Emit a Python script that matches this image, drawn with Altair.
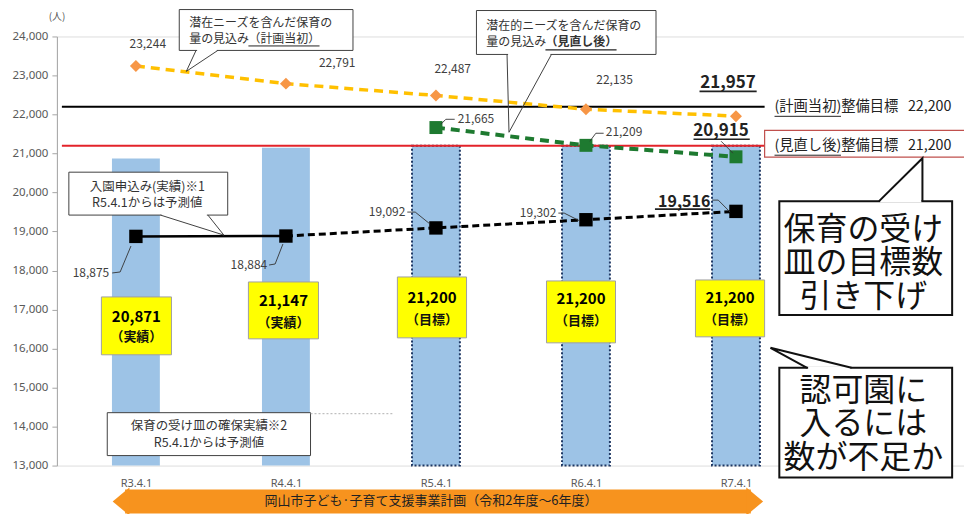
import altair as alt
import pandas as pd

# ---------------- data ----------------
categories = ["R3.4.1", "R4.4.1", "R5.4.1", "R6.4.1", "R7.4.1"]
capacity = [20871, 21147, 21200, 21200, 21200]            # 保育の受け皿
capacity_note = ["（実績）", "（実績）", "（目標）", "（目標）", "（目標）"]
capacity_planned = [False, False, True, True, True]
demand_initial = [23244, 22791, 22487, 22135, 21957]       # 量の見込み（計画当初）
demand_revised = [None, None, 21665, 21209, 20915]         # 量の見込み（見直し後）
applications = [18875, 18884, 19092, 19302, 19516]         # 入園申込み
target_initial = 22200
target_revised = 21200
y_ticks = list(range(13000, 25000, 1000))

FONT = "Noto Sans CJK JP"
NBSP = "\u00a0"
xs = alt.Scale(domain=[-0.4934, 5.4868], nice=False, zero=False)
ys = alt.Scale(domain=[13000, 24000], nice=False, zero=False)

label_expr = "[" + ",".join(f"'{c}'" for c in categories) + "][datum.value]"
AX = alt.Axis(values=[0, 1, 2, 3, 4], labelExpr=label_expr, domain=False, ticks=False, tickSize=0,
              grid=False, labelPadding=12, labelFontSize=11, labelColor="#595959",
              labelFont="Noto Sans", title=None)
AY = alt.Axis(values=y_ticks, labelExpr="format(datum.value, ',')", grid=False,
              domainColor="#a6a6a6", tickColor="#a6a6a6",
              tickSize=5, labelPadding=4, labelFontSize=11.5, labelColor="#595959",
              labelFont="Noto Sans", title=None)


def X(f="u"):
    return alt.X(f"{f}:Q", scale=xs, axis=AX)


def Y(f="v"):
    return alt.Y(f"{f}:Q", scale=ys, axis=AY)


def fmt(n):
    return f"{n:,}"


base = pd.DataFrame({
    "i": list(range(len(categories))),
    "cap": capacity,
    "planned": capacity_planned,
    "dem0": demand_initial,
    "dem1": demand_revised,
    "app": applications,
})
base["floor"] = 13000

bars = alt.Chart(base).mark_bar(size=48, color="#9dc3e6").encode(
    x=X("i"), y=Y("cap"), y2="floor")
bar_border = alt.Chart(base).transform_filter("datum.planned").mark_bar(
    size=48, fillOpacity=0, stroke="#1f3864", strokeWidth=2, strokeDash=[2, 2]
).encode(x=X("i"), y=Y("cap"), y2="floor")

# yellow value boxes
yb = pd.DataFrame({
    "u0": [-0.230, 0.750, 1.743, 2.737, 3.730],
    "u1": [0.237, 1.217, 2.204, 3.197, 4.191],
    "v0": [17323, 17707, 17835, 17733, 17758],
    "v1": [15840, 16249, 16274, 16146, 16300],
    "uc": [0.003, 0.984, 1.974, 2.967, 3.960],
    "vt": [16812, 17221, 17298, 17272, 17298],
    "vn": [16300, 16658, 16735, 16709, 16735],
    "t": [fmt(c) for c in capacity],
    "n": capacity_note,
})
ybox = alt.Chart(yb).mark_rect(fill="#ffff00", stroke="#a0a0a0", strokeWidth=1).encode(
    x=X("u0"), x2="u1", y=Y("v0"), y2="v1")
ybox_t = alt.Chart(yb).mark_text(fontSize=15, fontWeight="bold", color="#000", font=FONT).encode(
    x=X("uc"), y=Y("vt"), text="t")
ybox_n = alt.Chart(yb).mark_text(fontSize=13, fontWeight="bold", color="#111", font=FONT).encode(
    x=X("uc"), y=Y("vn"), text="n")

# target lines
tg_black = pd.DataFrame({"u0": [-0.4934], "u1": [4.191], "v": [target_initial]})
tg_red = pd.DataFrame({"u0": [-0.4934], "u1": [4.191], "v": [target_revised]})
rule_black = alt.Chart(tg_black).mark_rule(color="#000", strokeWidth=2).encode(
    x=X("u0"), x2="u1", y=Y("v"))
rule_red = alt.Chart(tg_red).mark_rule(color="#e3232a", strokeWidth=2).encode(
    x=X("u0"), x2="u1", y=Y("v"))

# series lines
orange_line = alt.Chart(base).mark_line(color="#ffc000", strokeWidth=3.5, strokeDash=[9, 6]).encode(
    x=X("i"), y=Y("dem0"))
orange_pts = alt.Chart(base).mark_point(shape="diamond", filled=True, color="#f79646", size=144,
                                        opacity=1).encode(x=X("i"), y=Y("dem0"))
green_line = alt.Chart(base).transform_filter("isValid(datum.dem1)").mark_line(
    color="#1e7a30", strokeWidth=4, strokeDash=[9, 6]).encode(x=X("i"), y=Y("dem1"))
green_pts = alt.Chart(base).transform_filter("isValid(datum.dem1)").mark_point(
    shape="square", filled=True, color="#1e7a30", size=169, opacity=1).encode(x=X("i"), y=Y("dem1"))
black_solid = alt.Chart(base).transform_filter("datum.i <= 1").mark_line(
    color="#000", strokeWidth=2.5).encode(x=X("i"), y=Y("app"))
black_dash = alt.Chart(base).transform_filter("datum.i >= 1").mark_line(
    color="#000", strokeWidth=3, strokeDash=[7, 4]).encode(x=X("i"), y=Y("app"))
black_pts = alt.Chart(base).mark_point(shape="square", filled=True, color="#000", size=180,
                                       opacity=1).encode(x=X("i"), y=Y("app"))


def tlayer(df, **kw):
    props = dict(font=FONT, baseline="middle")
    props.update(kw)
    return alt.Chart(df).mark_text(**props).encode(x=X("u"), y=Y("v"), text="t")


lab_c = pd.DataFrame({"u": [0.079, 1.342, 2.112, 3.191], "v": [23795, 23309, 23156, 22874],
                      "t": [fmt(x) for x in demand_initial[:4]]})
lab_l = pd.DataFrame({"u": [2.145, 3.132], "v": [21877, 21544],
                      "t": [fmt(demand_revised[2]), fmt(demand_revised[3])]})
lab_r = pd.DataFrame({"u": [1.796, 2.803, -0.178, 0.875], "v": [19498, 19472, 17937, 18142],
                      "t": [fmt(applications[2]), fmt(applications[3]), fmt(applications[0]), fmt(applications[1])]})
lab_b = pd.DataFrame({"u": [3.947, 3.901], "v": [22798, 21570],
                      "t": [fmt(demand_initial[4]), fmt(demand_revised[4])]})
lab_b2 = pd.DataFrame({"u": [3.829], "v": [19753], "t": [fmt(applications[4])]})

underlines = pd.DataFrame({
    "u0": [3.757, 3.717, 3.46, 0.750, 2.730, 4.257, 4.257],
    "u1": [4.138, 4.092, 3.829, 1.224, 3.204, 4.700, 4.700],
    "v": [22593, 21365, 19574, 23757, 23655, 21953, 20956],
    "w": [1.6, 1.6, 1.6, 1, 1.2, 1, 1],
})
ul = alt.Chart(underlines).mark_rule(color="#222").encode(
    x=X("u0"), x2="u1", y=Y("v"), strokeWidth=alt.StrokeWidth("w:Q", scale=None))

leaders = pd.DataFrame([
    ("a", 0, 2.033, 21749), ("a", 1, 2.066, 21877), ("a", 2, 2.125, 21877),
    ("b", 0, 3.026, 21314), ("b", 1, 3.066, 21519), ("b", 2, 3.118, 21519),
    ("c", 0, 3.901, 21314), ("c", 1, 3.980, 21007),
    ("d", 0, 1.809, 19498), ("d", 1, 1.862, 19498), ("d", 2, 1.961, 19191),
    ("e", 0, 2.816, 19472), ("e", 1, 2.855, 19472), ("e", 2, 2.961, 19267),
    ("f", 0, 3.842, 19805), ("f", 1, 3.882, 19805), ("f", 2, 3.961, 19498),
    ("g", 0, -0.158, 17937), ("g", 1, -0.105, 17963), ("g", 2, -0.033, 18628),
    ("h", 0, 0.888, 18142), ("h", 1, 0.928, 18167), ("h", 2, 0.980, 18679),
], columns=["g", "k", "u", "v"])
lead = alt.Chart(leaders).mark_line(color="#333", strokeWidth=0.9).encode(
    x=X("u"), y=Y("v"), detail="g:N", order="k:Q")

# callout boxes
thin_boxes = pd.DataFrame({
    "u0": [0.289, 2.270, -0.447, -0.191],
    "u1": [1.447, 3.467, 0.612, 1.164],
    "v0": [24690, 24665, 20521, 14356],
    "v1": [23642, 23539, 19421, 13256],
})
tb = alt.Chart(thin_boxes).mark_rect(fill="white", stroke="#404040", strokeWidth=1).encode(
    x=X("u0"), x2="u1", y=Y("v0"), y2="v1")
big_boxes = pd.DataFrame({"u0": [4.289, 4.289], "u1": [5.441, 5.441],
                          "v0": [19779, 15507], "v1": [16863, 12693]})
bb = alt.Chart(big_boxes).mark_rect(fill="white", stroke="#111", strokeWidth=2).encode(
    x=X("u0"), x2="u1", y=Y("v0"), y2="v1")
red_box = alt.Chart(pd.DataFrame({"u0": [4.191], "u1": [5.53], "v0": [21595], "v1": [20905]})).mark_rect(
    fill="white", stroke="#c0504d", strokeWidth=1.2).encode(x=X("u0"), x2="u1", y=Y("v0"), y2="v1")

openings = pd.DataFrame({
    "u0": [0.408, 2.481, 0.171, 4.961, 4.481],
    "u1": [0.539, 2.763, 0.473, 5.236, 4.763],
    "v": [23642, 23539, 19421, 19779, 15507],
})
op = alt.Chart(openings).mark_rule(color="white", strokeWidth=3).encode(x=X("u0"), x2="u1", y=Y("v"))

ptr_thin = pd.DataFrame([
    ("A", 0, 0.401, 23642), ("A", 1, 0.336, 23105), ("A", 2, 0.546, 23642),
    ("B", 0, 2.474, 23539), ("B", 1, 2.487, 21544), ("B", 2, 2.770, 23539),
    ("C", 0, 0.164, 19421), ("C", 1, 0.586, 18909), ("C", 2, 0.480, 19421),
], columns=["g", "k", "u", "v"])
ptr_big = pd.DataFrame([
    ("E", 0, 4.954, 19779), ("E", 1, 5.243, 20879), ("E", 2, 5.243, 19779),
    ("F", 0, 4.474, 15507), ("F", 1, 4.230, 16019), ("F", 2, 4.770, 15507),
], columns=["g", "k", "u", "v"])
pt = alt.Chart(ptr_thin).mark_line(color="#404040", strokeWidth=1).encode(
    x=X("u"), y=Y("v"), detail="g:N", order="k:Q")
pb = alt.Chart(ptr_big).mark_line(color="#111", strokeWidth=2).encode(
    x=X("u"), y=Y("v"), detail="g:N", order="k:Q")

dotted = alt.Chart(pd.DataFrame({"u0": [1.164], "u1": [1.711], "v": [14330]})).mark_rule(
    color="#b0b0b0", strokeWidth=1, strokeDash=[2, 2]).encode(x=X("u0"), x2="u1", y=Y("v"))

box_left = pd.DataFrame({
    "u": [0.355, 0.355, 2.336, 2.336],
    "v": [24345, 23936, 24269, 23846],
    "t": ["潜在ニーズを含んだ保育の", "量の見込み", "潜在的ニーズを含んだ保育の", "量の見込み"],
})
box_left2 = pd.DataFrame({"u": [0.750], "v": [23936], "t": ["（計画当初）"]})
box_left3 = pd.DataFrame({"u": [2.730], "v": [23846], "t": ["（見直し後）"]})
box_center = pd.DataFrame({
    "u": [0.076, 0.076, 0.487, 0.487],
    "v": [20137, 19728, 14023, 13588],
    "t": ["入園申込み(実績)※1", "R5.4.1からは予測値", "保育の受け皿の確保実績※2", "R5.4.1からは予測値"],
})
right_labels = pd.DataFrame({
    "u": [4.257, 4.257],
    "v": [22184, 21186],
    "t": [f"(計画当初)整備目標{NBSP * 3}{fmt(target_initial)}",
          f"(見直し後)整備目標{NBSP * 3}{fmt(target_revised)}"],
})
big_text = pd.DataFrame({
    "u": [4.849, 4.849],
    "v": [19037, 14919],
    "t": ["保育の受け\n皿の目標数\n引き下げ", "認可園に\n入るには\n数が不足か"],
})
unit = pd.DataFrame({"u": [-0.526], "v": [24500], "t": ["(人)"]})

# plan period arrow
arrow_body = alt.Chart(pd.DataFrame({"u0": [-0.072], "u1": [4.099], "v0": [12386], "v1": [11772]})).mark_rect(
    color="#f7931e").encode(x=X("u0"), x2="u1", y=Y("v0"), y2="v1")
arrow_l = alt.Chart(pd.DataFrame({"u": [-0.099], "v": [12079]})).mark_point(
    shape="M0.6,-1L-0.6,0L0.6,1Z", filled=True, color="#f7931e", size=784, opacity=1).encode(x=X("u"), y=Y("v"))
arrow_r = alt.Chart(pd.DataFrame({"u": [4.125], "v": [12079]})).mark_point(
    shape="M-0.6,-1L0.6,0L-0.6,1Z", filled=True, color="#f7931e", size=784, opacity=1).encode(x=X("u"), y=Y("v"))
arrow_t = pd.DataFrame({"u": [1.967], "v": [12079], "t": ["岡山市子ども·子育て支援事業計画（令和2年度～6年度）"]})

chart = alt.layer(
    bars, bar_border,
    rule_black, rule_red,
    ybox, ybox_t, ybox_n,
    orange_line, green_line, black_solid, black_dash,
    orange_pts, green_pts, black_pts,
    lead,
    tlayer(lab_c, fontSize=12, color="#404040", align="center"),
    tlayer(lab_l, fontSize=12, color="#404040", align="left"),
    tlayer(lab_r, fontSize=12, color="#404040", align="right"),
    tlayer(lab_b, fontSize=17, fontWeight="bold", color="#222", align="center"),
    tlayer(lab_b2, fontSize=16, fontWeight="bold", color="#222", align="right"),
    tb, bb, red_box, op, pt, pb, dotted,
    tlayer(box_left, fontSize=12, color="#333", align="left"),
    tlayer(box_left2, fontSize=12, color="#333", align="left"),
    tlayer(box_left3, fontSize=12, fontWeight="bold", color="#333", align="left"),
    tlayer(box_center, fontSize=12.5, color="#333", align="center"),
    tlayer(right_labels, fontSize=14.3, color="#222", align="left"),
    tlayer(big_text, fontSize=32, color="#111", align="center", lineBreak="\n", lineHeight=33.5),
    tlayer(unit, fontSize=10, color="#595959", align="center"),
    ul,
    arrow_body, arrow_l, arrow_r,
    tlayer(arrow_t, fontSize=13, color="#222", align="center"),
).properties(
    width=909, height=430,
    padding={"left": 49, "top": 28, "right": 0, "bottom": 48},
    autosize=alt.AutoSizeParams(type="none"),
).configure_view(stroke=None).configure(font=FONT)

chart.save("out.html", embed_options={"renderer": "svg", "actions": False})
